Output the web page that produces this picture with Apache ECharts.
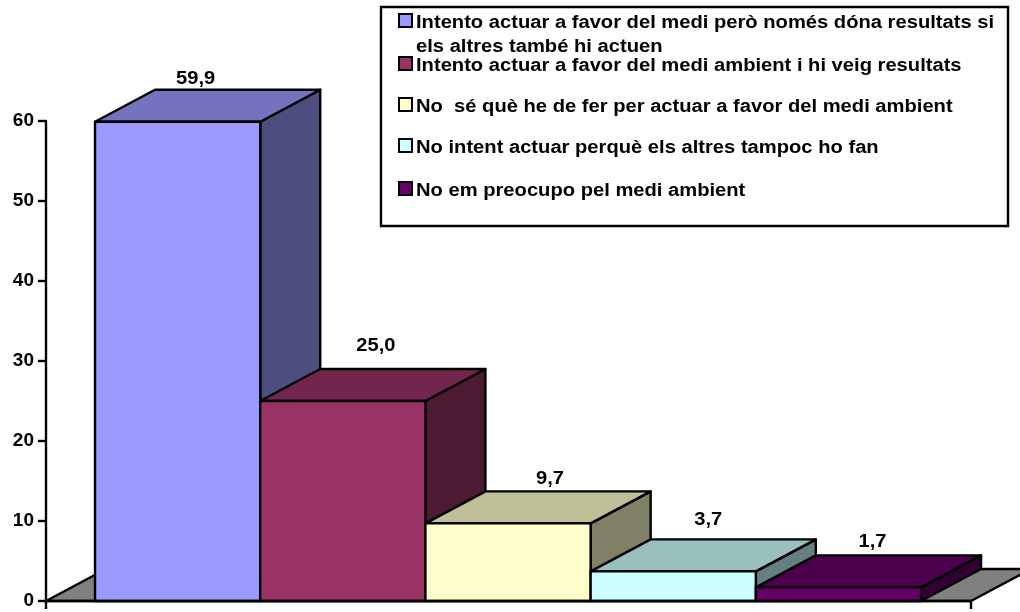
<!DOCTYPE html>
<html>
<head>
<meta charset="utf-8">
<style>html,body{margin:0;padding:0;background:#fff}#chart{width:1020px;height:612px}</style>
<script src="https://cdn.jsdelivr.net/npm/echarts@6/dist/echarts.min.js"></script>
</head>
<body>
<div id="chart"></div>
<script>
const categories = [
  'Intento actuar a favor del medi però només dóna resultats si\nels altres també hi actuen',
  'Intento actuar a favor del medi ambient i hi veig resultats',
  'No  sé què he de fer per actuar a favor del medi ambient',
  'No intent actuar perquè els altres tampoc ho fan',
  'No em preocupo pel medi ambient'
]
const values = [59.9, 25.0, 9.7, 3.7, 1.7]
const valueLabels = ['59,9', '25,0', '9,7', '3,7', '1,7']
const yTicks = [0, 10, 20, 30, 40, 50, 60]

const frontColors = ['#9999ff', '#993366', '#ffffcc', '#ccffff', '#660066']
const topColors = ['#7373bf', '#73264d', '#bfbf99', '#99bfbf', '#4d004d']
const sideColors = ['#4d4d80', '#4d1a33', '#808066', '#668080', '#330033']
// labels were hand placed in the original, not centred on the bars
const labelDx = [18, 33, 42, 35, 34]
const labelDy = [-11, -23, -13, -20, -14]
const legendRows = [21, 64, 105, 146, 189]

const depthX = 60
const depthY = 32
// the source picture is a little wider than its type
const labelStretch = 1.06
const legendStretch = 1.12
const font = '"Liberation Sans", Arial, sans-serif'
const line = { stroke: '#000', lineWidth: 2.4, lineJoin: 'round' }

function poly(points, fill) {
  return { type: 'polygon', shape: { points }, style: { fill, ...line } }
}

function renderBar(i) {
  return (params, api) => {
    const band = api.size([1, 0])[0]
    const w = band * 0.1786
    const origin = api.coord([0, 0])
    const top = api.coord([0, api.value(1)])[1]
    const x0 = origin[0] - band / 2 + band * 0.053 + w * i
    const x1 = x0 + w
    const y0 = origin[1]
    return {
      type: 'group',
      children: [
        poly([[x1, y0], [x1 + depthX, y0 - depthY], [x1 + depthX, top - depthY], [x1, top]], sideColors[i]),
        poly([[x0, top], [x0 + depthX, top - depthY], [x1 + depthX, top - depthY], [x1, top]], topColors[i]),
        poly([[x0, y0], [x1, y0], [x1, top], [x0, top]], frontColors[i]),
        {
          type: 'text',
          x: (x0 + x1) / 2 + labelDx[i],
          y: top - depthY + labelDy[i],
          scaleX: labelStretch,
          style: {
            text: valueLabels[i],
            fill: '#000',
            font: 'bold 19px ' + font,
            align: 'center',
            verticalAlign: 'middle'
          }
        }
      ]
    }
  }
}

function renderFloor(params, api) {
  const c = params.coordSys
  const b = c.y + c.height
  const r = c.x + c.width
  return poly([[c.x, b], [r, b], [r + depthX, b - depthY], [c.x + depthX, b - depthY]], '#808080')
}

const series = [{
  type: 'custom',
  renderItem: renderFloor,
  data: [[0, 0]],
  silent: true
}]
categories.forEach((name, i) => {
  series.push({
    name,
    type: 'custom',
    renderItem: renderBar(i),
    itemStyle: { color: frontColors[i] },
    encode: { x: 0, y: 1 },
    data: [[0, values[i]]]
  })
})

const legendBox = {
  type: 'rect',
  z: 0,
  shape: { x: 381, y: 7, width: 627, height: 219 },
  style: { fill: '#fff', stroke: '#000', lineWidth: 2.4 }
}
const legendItems = categories.flatMap((name, i) => [
  {
    type: 'rect',
    z: 10,
    shape: { x: 399, y: legendRows[i] - 7, width: 13, height: 13 },
    style: { fill: frontColors[i], stroke: '#000', lineWidth: 2 }
  },
  {
    type: 'text',
    z: 10,
    x: 416,
    y: legendRows[i] - 10,
    scaleX: legendStretch,
    style: { text: name, fill: '#000', font: 'bold 18px ' + font, lineHeight: 24 }
  }
])

const chart = echarts.init(document.getElementById('chart'))
chart.setOption({
  animation: false,
  backgroundColor: '#fff',
  textStyle: { fontFamily: font },
  grid: { left: 46, right: 49, top: 121, bottom: 11 },
  graphic: [legendBox, ...legendItems],
  xAxis: {
    type: 'category',
    data: [''],
    z: 5,
    axisLine: { lineStyle: { color: '#000', width: 2.4 } },
    axisTick: { show: true, length: 8, lineStyle: { color: '#000', width: 2.4 } },
    axisLabel: { show: false },
    splitLine: { show: false }
  },
  yAxis: {
    type: 'value',
    min: yTicks[0],
    max: yTicks[yTicks.length - 1],
    interval: yTicks[1] - yTicks[0],
    z: 5,
    axisLine: { show: true, lineStyle: { color: '#000', width: 2.4 } },
    axisTick: { show: true, length: 8, lineStyle: { color: '#000', width: 2.4 } },
    axisLabel: { color: '#000', fontFamily: font, fontWeight: 'bold', fontSize: 19, margin: 12 },
    splitLine: { show: false }
  },
  series
})
</script>
</body>
</html>
